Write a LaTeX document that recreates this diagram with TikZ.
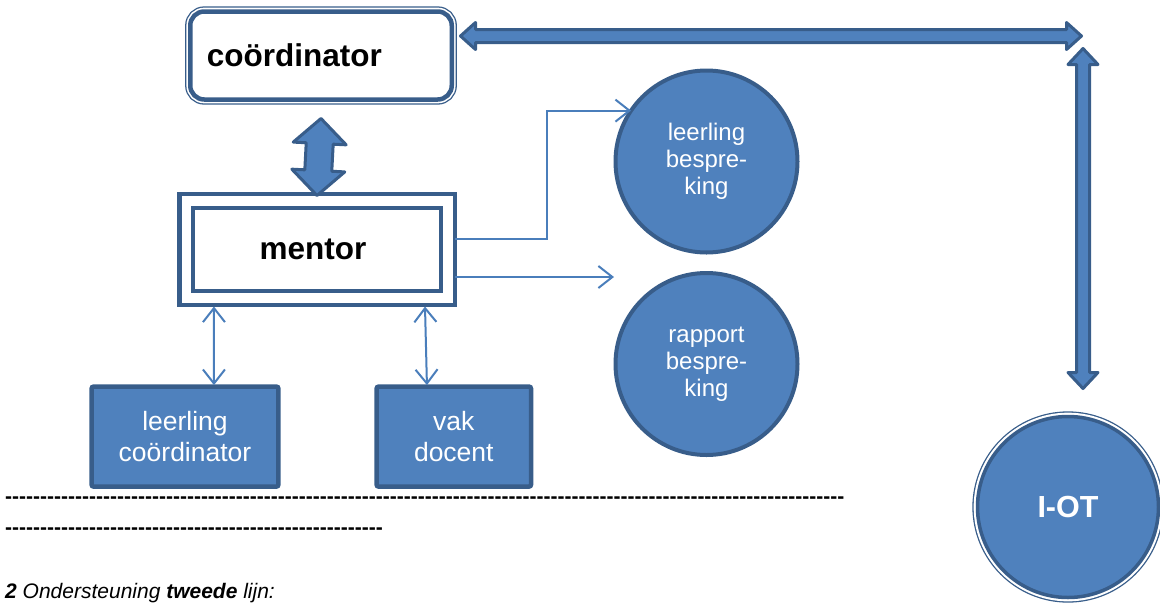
\documentclass[tikz,border=0pt]{standalone}
\usepackage{fontspec}
\setmainfont{Liberation Sans}
\usetikzlibrary{arrows.meta,calc,positioning}

\definecolor{boxfill}{HTML}{4F81BD}
\definecolor{boxline}{HTML}{385D8A}
\definecolor{linkline}{HTML}{4A7EBB}

\tikzset{
    bluebox/.style={draw=boxline, fill=boxfill, line width=4.5pt, rounded corners=2pt,
        text=white, align=center, inner sep=0pt, outer sep=0pt,
        font=\fontsize{26.5}{31}\selectfont},
    bluecircle/.style={circle, draw=boxline, fill=boxfill, line width=4pt, text=white,
        align=center, inner sep=0pt, outer sep=0pt, minimum size=182pt,
        font=\fontsize{24}{27}\selectfont},
    framebox/.style={draw=boxline, fill=white, line width=4.5pt, inner sep=0pt, outer sep=0pt},
    outline/.style={preaction={draw=boxline, line width=10.3pt},
        preaction={draw=white, line width=7.7pt}},
    fatarrow/.style={draw=boxline, fill=boxfill, line width=3pt, line join=round},
    link/.style={draw=linkline, line width=2pt, -{Straight Barb[length=14pt,width=22pt]}},
    duallink/.style={link, {Straight Barb[length=14pt,width=22pt]}-{Straight Barb[length=14pt,width=22pt]}},
    textrow/.style={anchor=base west, inner sep=0pt, font=\fontsize{21}{24}\selectfont},
}

% fat double arrow: from, to, half body, half head, head length
\newcommand{\fatarrow}[5]{%
    \coordinate (fa-a) at ($(#1)!#5!(#2)$);
    \coordinate (fa-b) at ($(#2)!#5!(#1)$);
    \filldraw[fatarrow] (#1)
        -- ($(fa-a)!#4!90:(#2)$) -- ($(fa-a)!#3!90:(#2)$)
        -- ($(fa-b)!#3!-90:(#1)$) -- ($(fa-b)!#4!-90:(#1)$)
        -- (#2)
        -- ($(fa-b)!#4!90:(#1)$) -- ($(fa-b)!#3!90:(#1)$)
        -- ($(fa-a)!#3!-90:(#2)$) -- ($(fa-a)!#4!-90:(#2)$)
        -- cycle;
}
\newcommand{\dashrun}[1]{\foreach \i in {1,...,#1}{\hbox{-}}}

\begin{document}
\begin{tikzpicture}[x=1pt, y=-1pt]
    \useasboundingbox (0,0) rectangle (1160,606);

    % first line
    \node[draw=boxline, fill=white, line width=4.5pt, rounded corners=14pt, outline,
        minimum width=261.5pt, minimum height=88pt, text width=228.5pt, align=left,
        inner xsep=16.5pt, outer sep=0pt, font=\bfseries\fontsize{31.5}{36}\selectfont]
        at (321,55.5) (coord) {coördinator};

    \node[framebox, minimum width=275.5pt, minimum height=111pt] at (317,249.5) (mentorbox) {};
    \node[framebox, minimum width=248pt, minimum height=83pt,
        font=\bfseries\fontsize{31.5}{36}\selectfont] at (317,249.5) (mentor) {\hspace*{-8pt}mentor};

    \node[bluebox, minimum width=186.8pt, minimum height=100pt] at (185,436.6) (lc) {leerling\\coördinator};
    \node[bluebox, minimum width=154.4pt, minimum height=100pt] at (453.8,436.6) (vd) {vak\\docent};

    \node[bluecircle] at (706.5,161.5) (lb) {leerling\\bespre-\\king};
    \node[bluecircle] at (706.5,364) (rb) {rapport\\bespre-\\king};
    \node[bluecircle, outline, line width=3.5pt, minimum size=181pt,
        font=\bfseries\fontsize{30.5}{34}\selectfont] at (1068,507) (iot) {I-OT};

    \coordinate (hubW) at (460.5,36);
    \coordinate (hubE) at (1081.5,36);
    \coordinate (hubN) at (1083,48.5);
    \coordinate (hubS) at (1083,388.5);

    % fat arrows
    \fatarrow{[yshift=-19pt]coord.south}{[yshift=-1.5pt]mentorbox.north}{13.5pt}{26.5pt}{25pt}
    \fatarrow{hubW}{hubE}{6.5pt}{13.5pt}{15pt}
    \fatarrow{hubN}{hubS}{6.5pt}{15pt}{16pt}

    % thin links
    \draw[link] ([yshift=10.5pt]mentorbox.east) -| ($(lb.146)+(-84,0)$) -- (lb.146);
    \draw[link] ([yshift=-27.5pt]mentorbox.east) -- ([shift={(-1.5,-87)}]rb.west);
    \draw[duallink] ($(mentorbox.south west)!0.126!(mentorbox.south east)+(0,1.5)$)
        -- ($(lc.north west)!0.655!(lc.north east)+(0,-1.5)$);
    \draw[duallink] ($(mentorbox.south west)!0.892!(mentorbox.south east)+(0,1.5)$)
        -- ($(vd.north west)!0.326!(vd.north east)+(0,-1.5)$);

    % text below
    \node[textrow, font=\bfseries\fontsize{21}{24}\selectfont] at (5,503) (dashA) {\dashrun{120}};
    \node[textrow, font=\bfseries\fontsize{21}{24}\selectfont] at (5,534) (dashB) {\dashrun{54}};
    \node[textrow] at (5,598) (caption) {\itshape\textbf{2} Ondersteuning \textbf{tweede} lijn:};
\end{tikzpicture}
\end{document}
